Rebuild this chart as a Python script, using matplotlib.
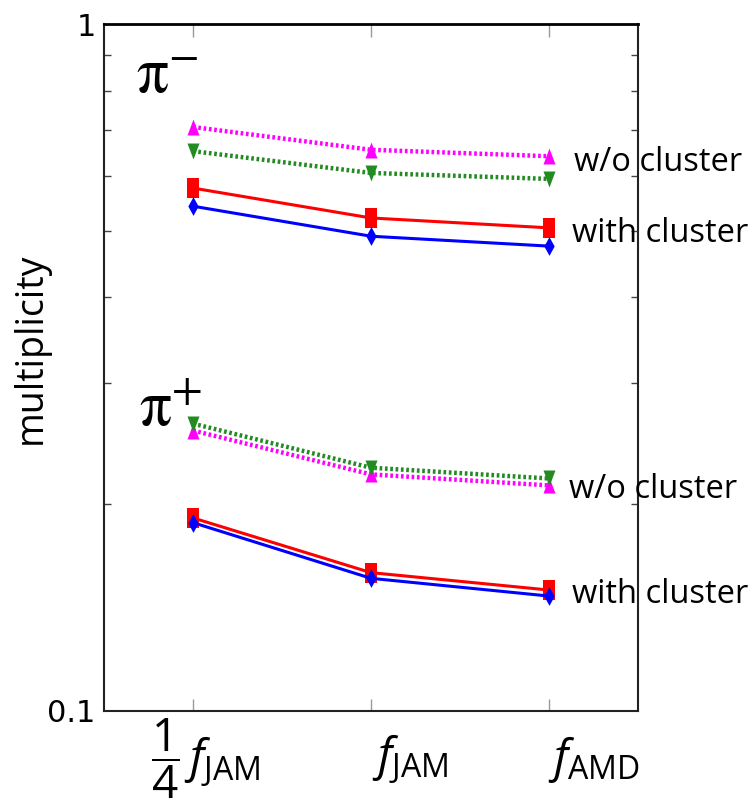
import numpy as np
import matplotlib
matplotlib.use("Agg")
import matplotlib.pyplot as plt

plt.rcParams['font.family'] = ['Open Sans', 'DejaVu Sans']
plt.rcParams['mathtext.fontset'] = 'custom'
plt.rcParams['mathtext.rm'] = 'Open Sans'
plt.rcParams['mathtext.it'] = 'Open Sans:italic'
plt.rcParams['mathtext.sf'] = 'Open Sans'

# x categories
xlabels = [r'$\dfrac{1}{4}\,f_{\mathrm{JAM}}$', r'$f_{\mathrm{JAM}}$', r'$f_{\mathrm{AMD}}$']
xpos = np.arange(3)

# pi- multiplicities
pim_wo_a = [0.708, 0.656, 0.642]   # magenta, triangle up
pim_wo_b = [0.653, 0.607, 0.595]   # green, triangle down
pim_w_a = [0.577, 0.522, 0.505]    # red, square
pim_w_b = [0.543, 0.491, 0.475]    # blue, diamond

# pi+ multiplicities
pip_wo_a = [0.256, 0.221, 0.213]
pip_wo_b = [0.262, 0.226, 0.218]
pip_w_a = [0.191, 0.159, 0.150]
pip_w_b = [0.188, 0.156, 0.147]

# stretched markers (taller than wide)
m_sq = [(-0.6, -1), (0.6, -1), (0.6, 1), (-0.6, 1), (-0.6, -1)]
m_di = [(0, -1), (0.55, 0), (0, 1), (-0.55, 0), (0, -1)]
m_up = [(-0.75, -1), (0.75, -1), (0, 1), (-0.75, -1)]
m_dn = [(-0.75, 1), (0.75, 1), (0, -1), (-0.75, 1)]

fig = plt.figure(figsize=(7.55, 8.01), dpi=100)
ax = fig.add_axes([104/755, 1-711/801, 534/755, 687/801])

dot = (0, (0.6, 0.6))
for wo_a, wo_b, w_a, w_b in [(pim_wo_a, pim_wo_b, pim_w_a, pim_w_b),
                             (pip_wo_a, pip_wo_b, pip_w_a, pip_w_b)]:
    ax.plot(xpos, wo_a, color='magenta', ls=dot, lw=3.2, marker=m_up, ms=11.5, mew=0, zorder=3)
    ax.plot(xpos, wo_b, color='forestgreen', ls=dot, lw=3.2, marker=m_dn, ms=11.5, mew=0, zorder=3)
    ax.plot(xpos, w_a, color='red', ls='-', lw=2.2, marker=m_sq, ms=15, mew=0, zorder=4)
    ax.plot(xpos, w_b, color='blue', ls='-', lw=2.2, marker=m_di, ms=13.5, mew=0, zorder=5)

ax.set_yscale('log')
ax.set_ylim(0.1, 1)
ax.set_xlim(-0.5, 2.5)
ax.set_yticks([0.1, 1])
ax.set_yticklabels(['0.1', '1'], fontsize=22, family=['Liberation Sans Narrow', 'DejaVu Sans'])
ax.yaxis.set_minor_locator(matplotlib.ticker.LogLocator(subs=np.arange(2, 10)))
ax.yaxis.set_minor_formatter(matplotlib.ticker.NullFormatter())
ax.tick_params(axis='y', which='both', direction='in', right=True, length=5, width=1, color='#444444')
ax.tick_params(axis='y', which='major', length=0, pad=6)
ax.set_xticks(xpos)
ax.set_xticklabels([])
ax.tick_params(axis='x', direction='in', top=True, length=9, width=1, color='#999999')
for s in ax.spines.values():
    s.set_linewidth(1.5)
    s.set_color('#222222')
ax.spines['top'].set_color('black')
ax.spines['top'].set_linewidth(2)

# category labels, set slightly right of their ticks as in the original
lab_off = [0.07, 0.22, 0.25]
for x, lab, off in zip(xpos, xlabels, lab_off):
    ax.text(x + off, -0.07, lab, transform=ax.get_xaxis_transform(), fontsize=33,
            ha='center', va='center')

fig.text(31/755, 1-348/801, 'multiplicity', fontsize=27, rotation=90, ha='center', va='center')

ax.text(0.06, 0.925, r'$\mathrm{\pi}^{-}$', transform=ax.transAxes, fontsize=46,
        math_fontfamily='stix', va='center')
ax.text(0.065, 0.44, r'$\mathrm{\pi}^{+}$', transform=ax.transAxes, fontsize=46,
        math_fontfamily='stix', va='center')

ax.text(2.14, 0.628, 'w/o cluster', fontsize=23.5, va='center', clip_on=False)
ax.text(2.13, 0.496, 'with cluster', fontsize=23.5, va='center', clip_on=False)
ax.text(2.11, 0.210, 'w/o cluster', fontsize=23.5, va='center', clip_on=False)
ax.text(2.13, 0.148, 'with cluster', fontsize=23.5, va='center', clip_on=False)

fig.savefig('out.png', dpi=100)
